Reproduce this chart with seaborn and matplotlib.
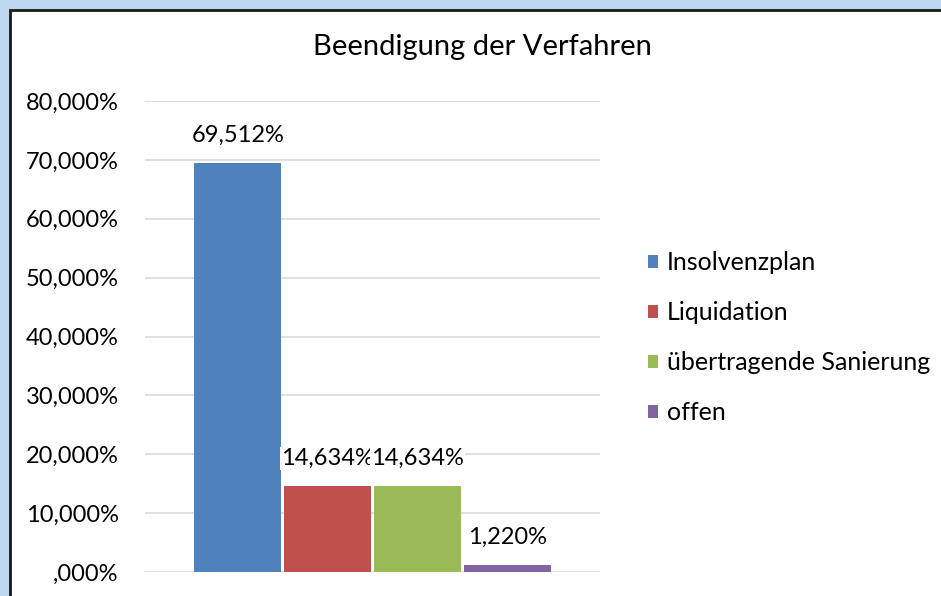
import matplotlib
matplotlib.use("Agg")
import matplotlib.pyplot as plt
import matplotlib.patches as patches
from matplotlib.ticker import FuncFormatter
import seaborn as sns
import pandas as pd

# Data
kategorie = ["Beendigung"] * 4
arten = ["Insolvenzplan", "Liquidation", "übertragende Sanierung", "offen"]
anteile = [0.69512, 0.14634, 0.14634, 0.01220]
farben = ["#4F81BD", "#C0504D", "#9BBB59", "#8064A2"]
y_ticks = [0.0, 0.1, 0.2, 0.3, 0.4, 0.5, 0.6, 0.7, 0.8]

df = pd.DataFrame({"kat": kategorie, "art": arten, "anteil": anteile})

sns.set_style("white")
plt.rcParams["font.family"] = ["Lato", "DejaVu Sans"]
plt.rcParams["text.color"] = "black"
plt.rcParams["ytick.color"] = "black"


def de_prozent(v, pos=None):
    s = f"{v * 100:.3f}".replace(".", ",")
    if s.startswith("0,"):
        s = s[1:]
    return s + "%"


fig = plt.figure(figsize=(9.41, 5.96), dpi=100)
fig.patch.set_facecolor("#BDD7EE")

# white chart panel with dark border
panel = patches.Rectangle((9.5 / 941, -0.05), 1.1, 1 - 9.5 / 596 + 0.05,
                          transform=fig.transFigure, facecolor="white",
                          edgecolor="#1a1a1a", linewidth=2, zorder=-10)
fig.patches.append(panel)

ax = fig.add_axes([145 / 941, 1 - 572 / 596, 455 / 941, (572 - 101) / 596])
ax.set_facecolor("none")

sns.barplot(data=df, x="kat", y="anteil", hue="art", hue_order=arten,
            palette=farben, width=0.79, gap=0.035, saturation=1,
            linewidth=0, ax=ax, legend=True)

ax.set_ylim(0, 0.8)
ax.set_yticks(y_ticks)
ax.yaxis.set_major_formatter(FuncFormatter(de_prozent))
ax.grid(axis="y", color="#D9D9D9", linewidth=1.2)
ax.set_axisbelow(True)
ax.set_xticks([])
ax.set_xlabel("")
ax.set_ylabel("")
ax.tick_params(axis="y", labelsize=17, length=0, pad=19)
sns.despine(ax=ax, left=True, bottom=True)

for cont in ax.containers:
    txts = ax.bar_label(cont, labels=[de_prozent(b.get_height()) for b in cont],
                        padding=12, fontsize=17)
    for t in txts:
        t.set_bbox(dict(facecolor="white", edgecolor="none", pad=0.5))

ax.legend(loc="center left", bbox_to_anchor=(638 / 941, 1 - 338 / 596),
          bbox_transform=fig.transFigure, frameon=False, fontsize=18,
          handlelength=0.4, handleheight=0.4, handletextpad=0.35,
          labelspacing=1.08, borderaxespad=0)

fig.text(482 / 941, 1 - 47 / 596, "Beendigung der Verfahren",
         ha="center", va="center", fontsize=21)

fig.savefig("out.png", dpi=100, facecolor=fig.get_facecolor())
